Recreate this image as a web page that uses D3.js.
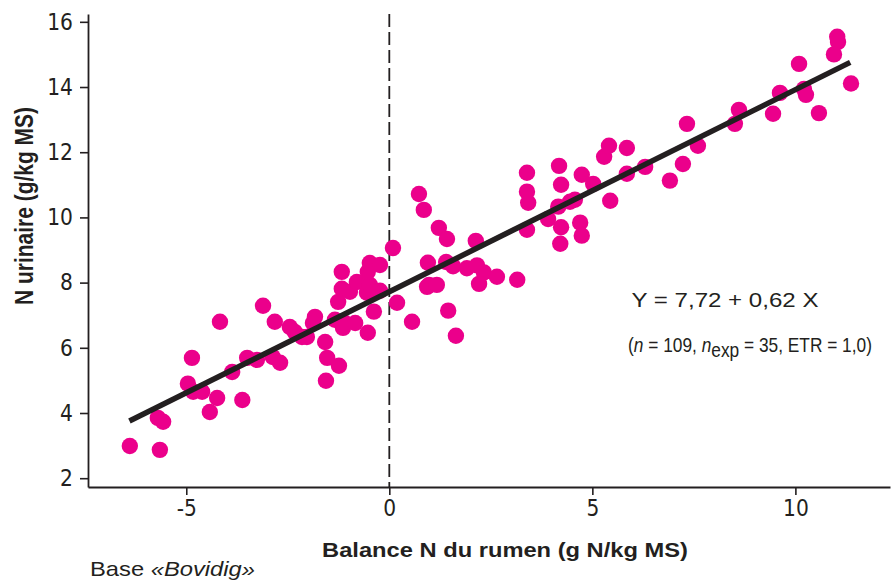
<!DOCTYPE html>
<html><head><meta charset="utf-8">
<script src="https://cdn.jsdelivr.net/npm/d3@7"></script>
<style>
body{margin:0;background:#fff;}
svg{display:block;}
.tick text{font-family:"DejaVu Sans",Verdana,sans-serif;font-size:23px;fill:#231f20;}
</style></head><body>
<svg id="c" width="891" height="583"></svg>
<script>
const xVals = [-6.39,-5.65,-5.70,-5.57,-4.96,-4.83,-4.61,-4.42,-4.24,-3.62,-4.86,-4.17,-3.87,-3.50,-3.26,-3.11,-2.82,-2.87,-2.69,-2.45,-2.33,-2.15,-2.03,-1.83,-1.88,-1.58,-1.53,-1.24,-1.56,-1.34,-1.09,-1.14,-0.84,-0.53,-0.38,0.19,0.56,-1.26,-1.17,-1.17,-0.97,-0.80,-0.55,-0.48,-0.23,-0.53,-0.48,-0.23,0.09,0.93,0.95,0.98,1.17,0.73,0.85,1.22,1.42,2.13,1.40,1.57,1.91,2.16,2.33,2.65,3.15,2.21,1.45,1.64,3.39,3.39,3.42,3.39,4.18,4.23,4.16,3.91,4.23,4.21,4.70,4.74,4.45,4.57,4.74,5.02,5.44,5.29,5.41,5.85,5.85,6.30,6.91,7.23,7.60,7.33,8.51,8.61,9.45,9.62,10.09,10.21,10.26,10.58,11.03,11.05,10.95,11.37];
const yVals = [2.99,2.87,3.85,3.73,4.90,4.65,4.65,4.03,4.46,4.40,5.69,6.80,5.26,5.69,5.63,7.29,6.80,5.72,5.54,6.64,6.49,6.33,6.33,6.95,6.76,6.18,5.69,5.45,4.99,6.86,6.76,6.61,6.76,6.46,7.11,7.38,6.80,7.41,7.81,8.33,7.72,8.02,7.69,7.93,7.75,8.33,8.60,8.54,9.06,7.87,8.61,7.93,7.93,10.72,10.23,9.68,9.34,9.28,8.63,8.50,8.44,8.53,8.31,8.18,8.09,7.96,7.14,6.37,11.37,10.79,10.45,9.62,11.58,11.00,10.33,9.95,9.70,9.19,9.84,9.44,10.48,10.54,11.31,11.03,10.51,11.86,12.20,12.13,11.34,11.55,11.13,11.64,12.20,12.87,12.87,13.30,13.18,13.82,14.71,13.94,13.76,13.20,15.54,15.38,15.00,14.11];
const xTicks = [-5, 0, 5, 10];
const yTicks = [2, 4, 6, 8, 10, 12, 14, 16];
const intercept = 7.72, slope = 0.62;
const fitRange = [-6.4, 11.35];
const xTitle = "Balance N du rumen (g N/kg MS)";
const yTitle = "N urinaire (g/kg MS)";
const equation = "Y = 7,72 + 0,62 X";

const svg = d3.select("#c");
const ink = "#231f20", pink = "#eb008b";
const sans = "'Liberation Sans',Arial,sans-serif";
const x = d3.scaleLinear().domain([-7.42, 12.33]).range([88, 890]);
const y = d3.scaleLinear().domain([1.73, 16.24]).range([487, 14]);

// horizontal stretch of a text element about its anchor
function stretch(t, targetW) {
  const b = t.node().getBBox();
  const ax = +t.attr("x") || 0;
  const k = targetW / b.width;
  t.attr("transform", `translate(${ax},0) scale(${k},1) translate(${-ax},0)`);
}

// zero dashed line
svg.append("line").attr("x1", x(0)).attr("x2", x(0)).attr("y1", y(16.24)).attr("y2", y(1.73))
  .attr("stroke", ink).attr("stroke-width", 1.8).attr("stroke-dasharray", "13,5");

// points
svg.append("g").selectAll("circle").data(xVals.map((v, i) => [v, yVals[i]])).join("circle")
  .attr("cx", d => x(d[0])).attr("cy", d => y(d[1])).attr("r", 8.2).attr("fill", pink);

// regression line
svg.append("line")
  .attr("x1", x(fitRange[0])).attr("y1", y(intercept + slope * fitRange[0]))
  .attr("x2", x(fitRange[1])).attr("y2", y(intercept + slope * fitRange[1]))
  .attr("stroke", ink).attr("stroke-width", 5.5);

// axes
const gx = svg.append("g").attr("transform", `translate(0,${y(1.73)})`)
  .call(d3.axisBottom(x).tickValues(xTicks).tickSize(8).tickSizeOuter(0).tickPadding(5).tickFormat(d => d < 0 ? "-" + Math.abs(d) : d));
const gy = svg.append("g").attr("transform", `translate(${x(-7.42)},0)`)
  .call(d3.axisLeft(y).tickValues(yTicks).tickSize(8).tickSizeOuter(0).tickPadding(7));
[gx, gy].forEach(g => {
  g.select(".domain").attr("stroke", ink).attr("stroke-width", 1.8);
  g.selectAll(".tick line").attr("stroke", ink).attr("stroke-width", 1.6);
  g.attr("font-family", null).attr("font-size", null);
});
gx.selectAll(".tick text").attr("transform", "scale(0.88,1)");
gy.selectAll(".tick text").each(function() {
  const t = d3.select(this); const tx = +t.attr("x");
  t.attr("x", 0).attr("transform", `translate(${tx},0) scale(0.88,1)`);
});

// titles
const xt = svg.append("text").attr("x", 505).attr("y", 557).attr("text-anchor", "middle")
  .attr("font-family", sans).attr("font-weight", "bold")
  .attr("font-size", 21).attr("fill", ink).text(xTitle);
stretch(xt, 366);
const yt = svg.append("text").attr("text-anchor", "middle")
  .attr("font-family", sans).attr("font-weight", "bold")
  .attr("font-size", 20.5).attr("fill", ink).text(yTitle);
{
  const w = yt.node().getBBox().width;
  yt.attr("transform", `translate(33,206) scale(1.25,${198 / w}) rotate(-90)`);
}

// equation
const eq = svg.append("text").attr("x", 725).attr("y", 307).attr("text-anchor", "middle")
  .attr("font-family", sans).attr("font-size", 21).attr("fill", ink).text(equation);
stretch(eq, 187);
const stats = svg.append("text").attr("x", 750).attr("y", 352).attr("text-anchor", "middle")
  .attr("font-family", sans).attr("font-size", 20).attr("fill", ink);
stats.append("tspan").text("(");
stats.append("tspan").attr("font-style", "italic").text("n");
stats.append("tspan").text(" = 109, ");
stats.append("tspan").attr("font-style", "italic").text("n");
stats.append("tspan").attr("dy", 5).text("exp");
stats.append("tspan").attr("dy", -5).text(" = 35, ETR = 1,0)");
stretch(stats, 244);

// source
const src = svg.append("text").attr("x", 90).attr("y", 576)
  .attr("font-family", sans).attr("font-size", 20.5).attr("fill", ink);
src.append("tspan").text("Base ");
src.append("tspan").attr("font-style", "italic").text("«Bovidig»");
stretch(src, 165);
</script></body></html>
